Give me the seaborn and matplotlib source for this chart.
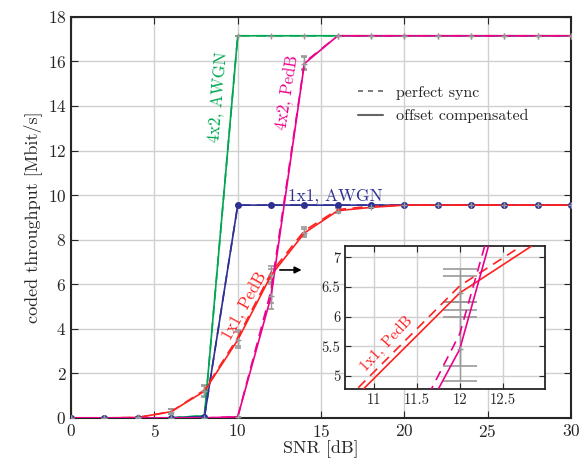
import numpy as np
import matplotlib
matplotlib.use('Agg')
import matplotlib.pyplot as plt
import seaborn as sns
from matplotlib.lines import Line2D

# data

snr = [0, 2, 4, 6, 8, 10, 12, 14, 16, 18, 20, 22, 24, 26, 28, 30]

awgn_4x2 = [0, 0, 0, 0, 0.1, 17.15, 17.15, 17.15, 17.15, 17.15, 17.15, 17.15, 17.15, 17.15, 17.15, 17.15]
awgn_1x1 = [0, 0, 0, 0, 0.05, 9.55, 9.55, 9.55, 9.55, 9.55, 9.55, 9.55, 9.55, 9.55, 9.55, 9.55]

pedb_1x1_sync = [0, 0, 0.02, 0.28, 1.25, 3.6, 6.52, 8.4, 9.35, 9.5, 9.55, 9.55, 9.55, 9.55, 9.55, 9.55]
pedb_1x1_comp = [0, 0, 0.02, 0.28, 1.2, 3.5, 6.4, 8.3, 9.3, 9.45, 9.55, 9.55, 9.55, 9.55, 9.55, 9.55]
pedb_1x1_err = [0, 0, 0, 0.12, 0.25, 0.35, 0.28, 0.18, 0.1, 0.05, 0, 0, 0, 0, 0, 0]

pedb_4x2_sync = [0, 0, 0, 0, 0, 0.05, 5.71, 15.95, 17.15, 17.15, 17.15, 17.15, 17.15, 17.15, 17.15, 17.15]
pedb_4x2_comp = [0, 0, 0, 0, 0, 0.05, 5.45, 15.9, 17.15, 17.15, 17.15, 17.15, 17.15, 17.15, 17.15, 17.15]
pedb_4x2_err = [0, 0, 0, 0, 0, 0, 0.54, 0.3, 0, 0, 0, 0, 0, 0, 0, 0]

green = '#00a651'
blue = '#2e3192'
red = '#ff2020'
magenta = '#ec008c'
gray = '#999999'

# style

sns.set_style('ticks')
plt.rcParams['font.family'] = ['cmr10', 'DejaVu Serif']
plt.rcParams['mathtext.fontset'] = 'cm'
plt.rcParams['axes.formatter.use_mathtext'] = True

fig = plt.figure(figsize=(5.88, 4.68), dpi=100)
ax = fig.add_axes([0.121, 0.107, 0.850, 0.857])
ins = fig.add_axes([0.587, 0.169, 0.340, 0.305])


def draw(a, cap, lw=1.2):
    series = [
        (awgn_4x2, awgn_4x2, None, green, '+'),
        (awgn_1x1, awgn_1x1, None, blue, 'o'),
        (pedb_1x1_sync, pedb_1x1_comp, pedb_1x1_err, red, '+'),
        (pedb_4x2_sync, pedb_4x2_comp, pedb_4x2_err, magenta, '+'),
    ]
    for sync, comp, err, col, mk in series:
        e = err if err is not None else [0] * len(snr)
        a.errorbar(snr, sync, yerr=e, fmt='none', ecolor=gray, capsize=cap,
                   elinewidth=1, capthick=1.2, zorder=2)
        a.errorbar(snr, comp, yerr=e, fmt='none', ecolor=gray, capsize=cap,
                   elinewidth=1, capthick=1.2, zorder=2)
        sns.lineplot(x=snr, y=comp, ax=a, color=col, linewidth=lw, zorder=3)
        sns.lineplot(x=snr, y=sync, ax=a, color=col, linewidth=lw,
                     linestyle=(0, (6, 4)), zorder=3)
        if mk == 'o':
            a.plot(snr, comp, 'o', color=blue, markersize=4, zorder=4)
        else:
            a.plot(snr, comp, '+', color=gray, markersize=4, zorder=4)


# main axes

draw(ax, 2.4)
ax.set_xlim(0, 30)
ax.set_ylim(0, 18)
ax.set_xticks([0, 5, 10, 15, 20, 25, 30])
ax.set_yticks(range(0, 19, 2))
ax.grid(True, color='#d0d0d0', linewidth=1)
ax.set_axisbelow(True)
ax.tick_params(direction='in', top=True, right=True, length=5, labelsize=12.5)
for s in ax.spines.values():
    s.set_linewidth(1.5)
ax.set_xlabel('SNR [dB]', fontsize=13, labelpad=0)
ax.set_ylabel('coded throughput [Mbit/s]', fontsize=13, labelpad=4)

ax.text(8.8, 14.4, '4x2, AWGN', color=green, rotation=85, fontsize=12,
        ha='center', va='center')
ax.text(13.0, 14.6, '4x2, PedB', color=magenta, rotation=81, fontsize=12,
        ha='center', va='center')
ax.text(13.0, 9.95, '1x1, AWGN', color=blue, fontsize=12.5, ha='left', va='center')
ax.text(10.44, 5.0, '1x1, PedB', color=red, rotation=61, fontsize=12,
        ha='center', va='center')
ax.annotate('', xy=(14.0, 6.64), xytext=(12.36, 6.64),
            arrowprops=dict(arrowstyle='-|>', color='black', lw=1.2))

handles = [Line2D([], [], color='#666666', linestyle=(0, (3, 3)), lw=1.2),
           Line2D([], [], color='#666666', linestyle='-', lw=1.5)]
ax.legend(handles, ['perfect sync', 'offset compensated'], frameon=False,
          fontsize=11.5, loc='upper left', bbox_to_anchor=(0.545, 0.865),
          handlelength=1.6, labelspacing=0.6)

# inset

draw(ins, 12.4)
ins.set_xlim(10.67, 12.99)
ins.set_ylim(4.78, 7.19)
ins.set_xticks([11, 11.5, 12, 12.5])
ins.set_yticks([5, 5.5, 6, 6.5, 7])
ins.set_xticklabels(['11', '11.5', '12', '12.5'])
ins.set_yticklabels(['5', '5.5', '6', '6.5', '7'])
ins.grid(True, color='#d0d0d0', linewidth=1)
ins.set_axisbelow(True)
ins.tick_params(direction='in', top=True, right=True, length=4, labelsize=10.5)
ins.set_facecolor('white')
for s in ins.spines.values():
    s.set_linewidth(1.3)
ins.text(11.15, 5.55, '1x1, PedB', color=red, rotation=47, fontsize=11,
         ha='center', va='center')

fig.savefig('out.png', dpi=100)
